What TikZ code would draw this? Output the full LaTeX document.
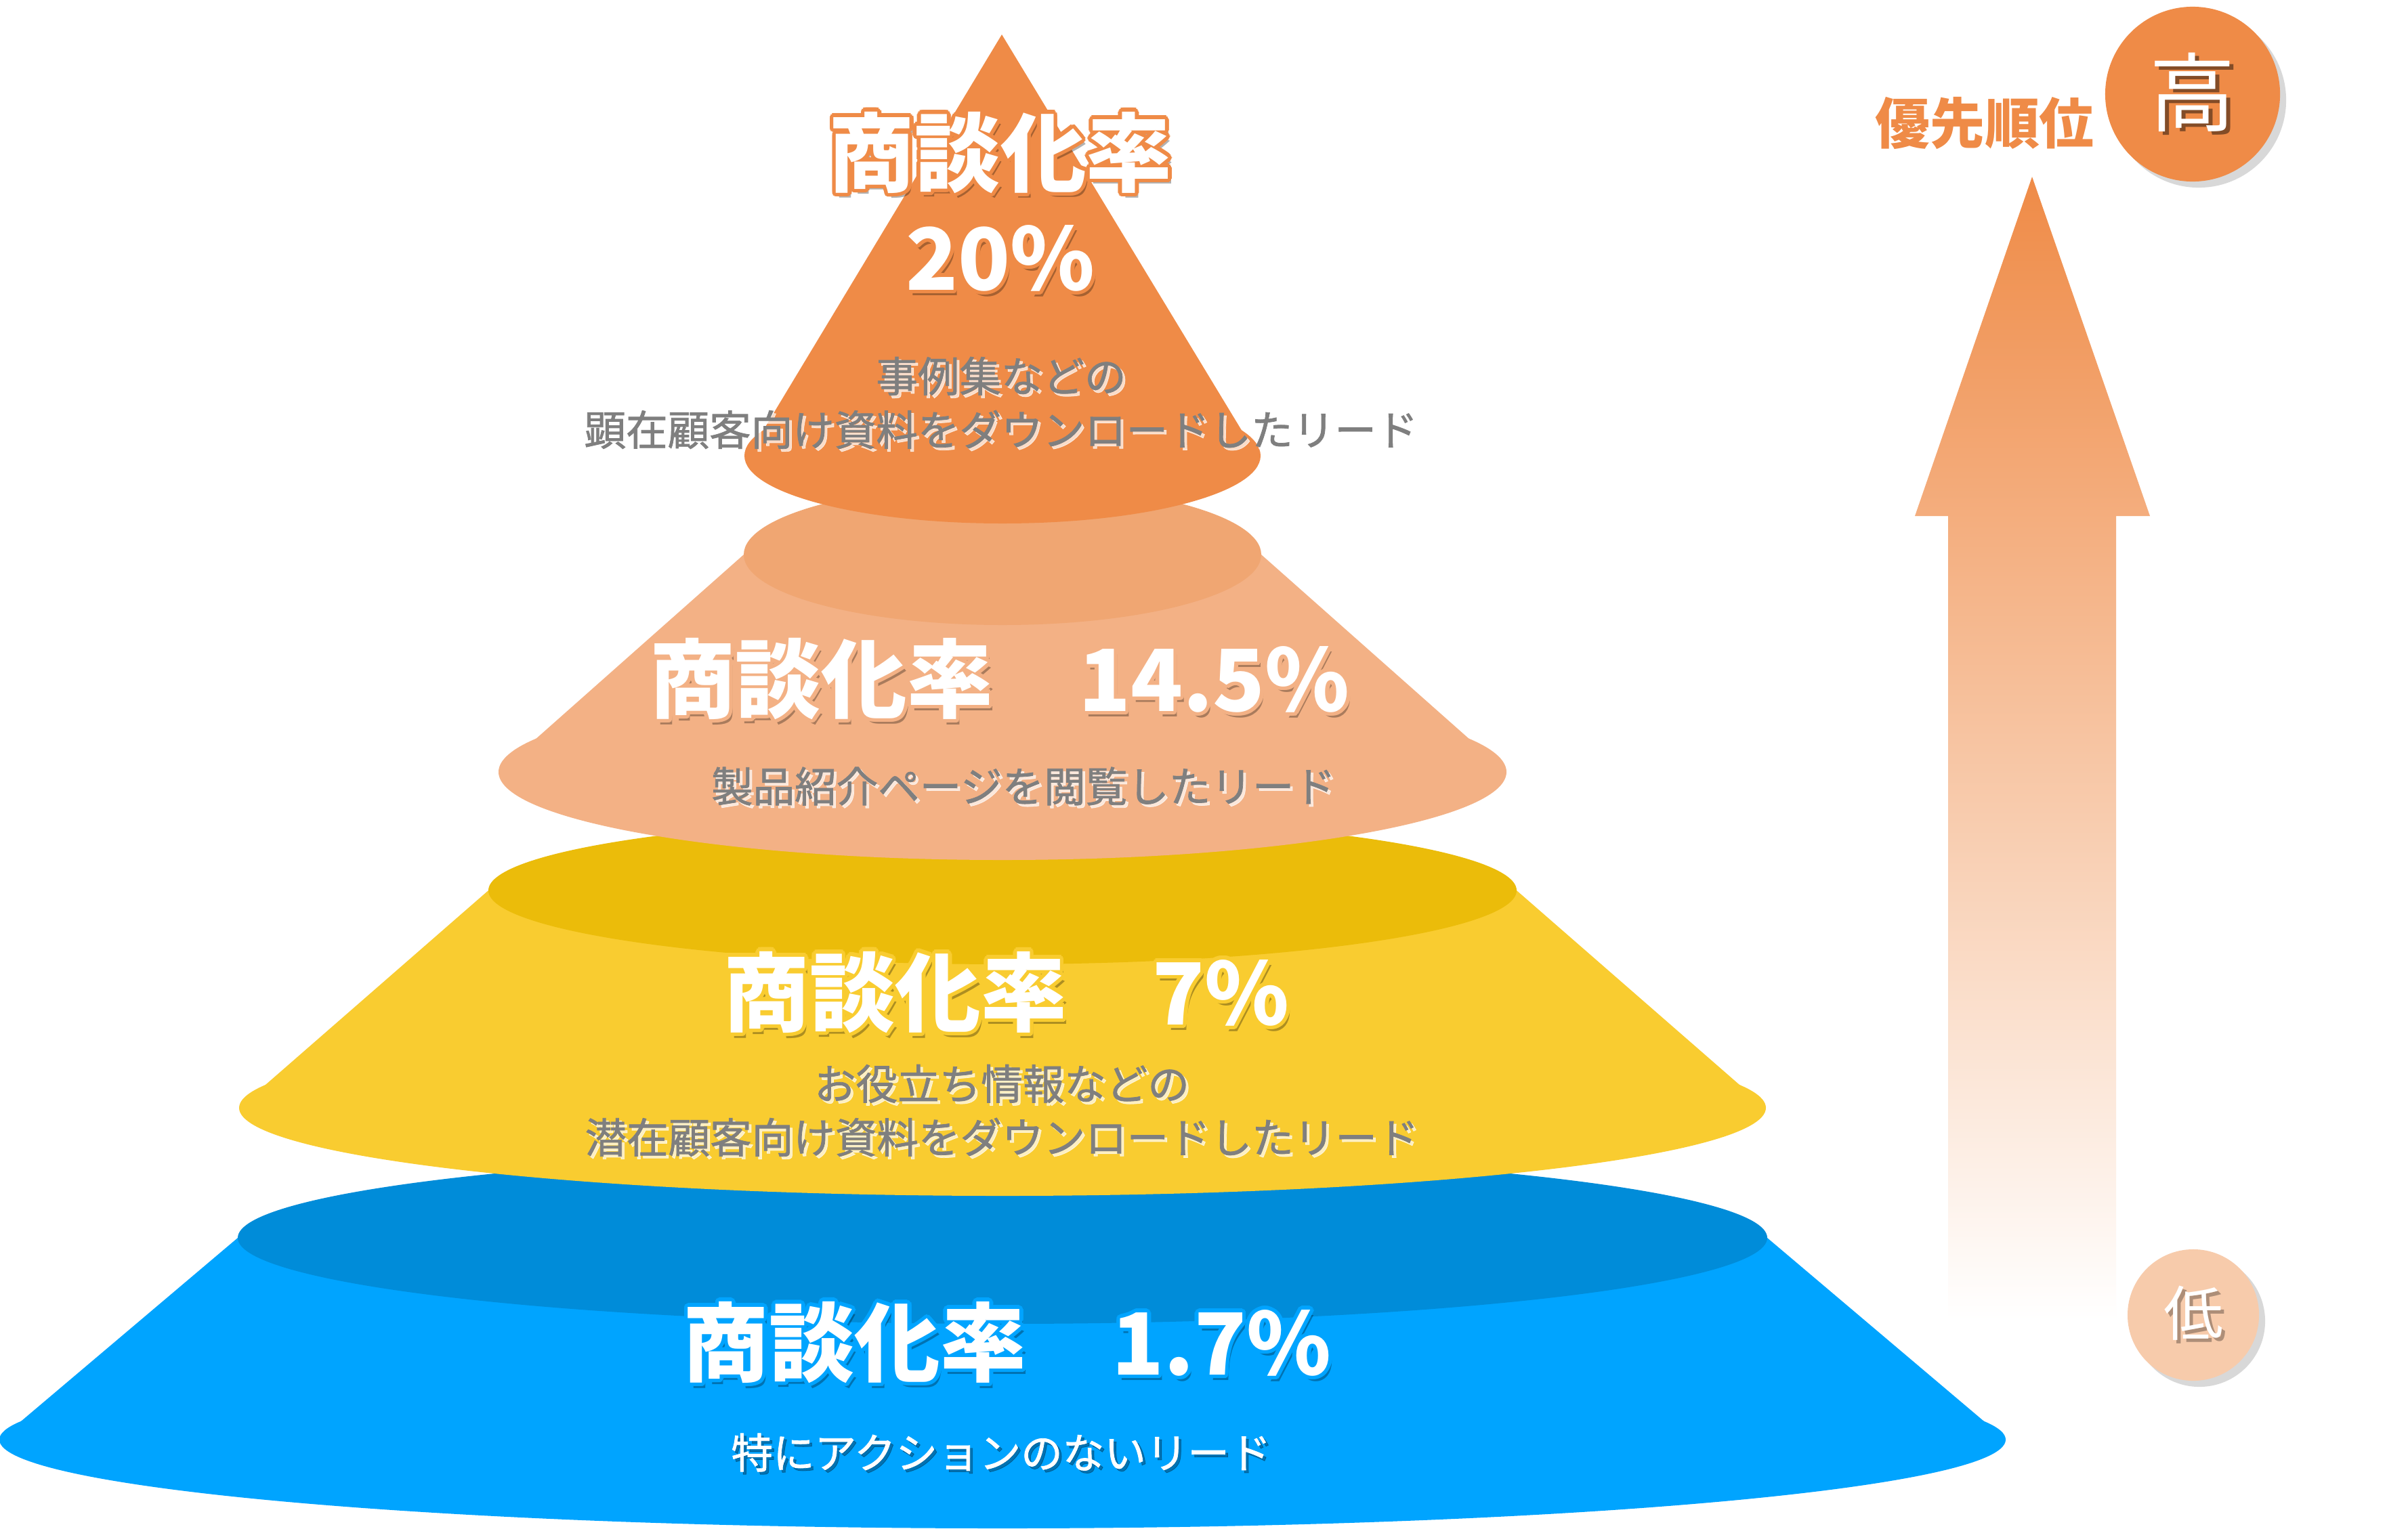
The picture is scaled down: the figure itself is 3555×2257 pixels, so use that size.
\documentclass[tikz,border=0pt]{standalone}
\usepackage{fontspec}
\setmainfont{Noto Sans CJK JP}
\newfontfamily\leadfont{Noto Sans CJK JP}[FakeBold=1.2]
\usepackage[copies]{contour}
\contourlength{1.6pt}
\usetikzlibrary{shadows}

\definecolor{tierA}{HTML}{EF8B47}
\definecolor{tierBside}{HTML}{F3B185}
\definecolor{tierBtop}{HTML}{F0A672}
\definecolor{tierCside}{HTML}{F9CC30}
\definecolor{tierCtop}{HTML}{EBBC0A}
\definecolor{tierDside}{HTML}{00A4FF}
\definecolor{tierDtop}{HTML}{008CD9}
\definecolor{lowdot}{HTML}{F7CBAB}
\definecolor{leadgray}{HTML}{7F7F7F}

\tikzset{
ratetext/.style={font=\bfseries\fontsize{36}{40}\selectfont, text=white, inner sep=0},
leadtext/.style={font=\leadfont\fontsize{17.5}{22.5}\selectfont, text=leadgray, align=center, inner sep=0},
dot/.style={circle, inner sep=0, text=white, drop shadow={shadow xshift=0.09cm, shadow yshift=-0.09cm, opacity=0.3}}
}

% one frustum: top y, top rx, top ry, bottom y, bottom rx, bottom ry, side colour, top colour
\newcommand{\tier}[8]{
\fill[#7] (1480-#2,#1) -- (1480+#2,#1) -- (1480+#5,#4) -- (1480-#5,#4) -- cycle;
\fill[#7] (1480,#4) ellipse [x radius=#5, y radius=#6];
\fill[#8] (1480,#1) ellipse [x radius=#2, y radius=#3];}
% white rate label with outline and shadow
\newcommand{\rate}[5]{
\node[ratetext, text=black, opacity=0.3, shift={(5,-5)}] (#1s) at (#2,#3) {#5};
\node[ratetext] (#1) at (#2,#3) {\contour{#4}{#5}};}
% grey lead text
\newcommand{\lead}[4]{
\node[leadtext, text=white, opacity=0.7, shift={(4,-4)}] (#1s) at (#2,#3) {#4};
\node[leadtext] (#1) at (#2,#3) {#4};}
\newcommand{\shd}[2]{\rlap{\kern1.5pt\raisebox{-1.5pt}{\textcolor{#1}{#2}}}#2}

\begin{document}
\begin{tikzpicture}[x=0.01cm,y=0.01cm]
\fill[white] (0,0) rectangle (3555,-2257);
\useasboundingbox (0,0) rectangle (3555,-2257);

% tiers, bottom first
\tier{-1828}{1129}{127}{-2126}{1481}{131}{tierDside}{tierDtop}
\tier{-1315}{759}{109}{-1636}{1127}{130}{tierCside}{tierCtop}
\tier{-819}{382}{104}{-1140}{744}{130}{tierBside}{tierBtop}
\fill[tierA] (1479,-51) -- (1100,-680) -- (1860,-680) -- cycle;
\fill[tierA] (1480,-673) ellipse [x radius=381, y radius=100];

\rate{rA}{1477}{-228}{tierA}{商談化率}
\rate{pA}{1477}{-384}{tierA}{20\%}
\lead{lA}{1478}{-595}{事例集などの\\顕在顧客向け資料をダウンロードしたリード}

\rate{rB}{1476}{-1005}{tierBside}{商談化率　14.5\%}
\lead{lB}{1511}{-1161}{製品紹介ページを閲覧したリード}

\rate{rC}{1486}{-1468}{tierCside}{商談化率　7\%}
\lead{lC}{1479}{-1640}{お役立ち情報などの\\潜在顧客向け資料をダウンロードしたリード}

\rate{rD}{1487}{-1985}{tierDside}{商談化率　1.7\%}
\node[leadtext, text=black, opacity=0.3, shift={(4,-4)}] (lDs) at (1478,-2145) {特にアクションのないリード};
\node[leadtext, text=white] (lD) at (1478,-2145) {特にアクションのないリード};

% priority arrow
\shade[top color=tierA, bottom color=white] (3000,-261) -- (3174,-762) -- (3124,-762)
  -- (3124,-1950) -- (2876,-1950) -- (2876,-762) -- (2827,-762) -- cycle;
\node[font=\bfseries\fontsize{23}{23}\selectfont, text=tierA, inner sep=0] (prio) at (2930,-182) {優先順位};
\node[dot, fill=tierA, minimum size=2.58cm, font=\fontsize{36}{36}\selectfont] (hi) at (3237,-139) {\shd{black!45!tierA}{高}};
\node[dot, fill=lowdot, minimum size=1.94cm, font=\fontsize{25}{25}\selectfont] (lo) at (3238,-1942) {\shd{black!30!lowdot}{低}};
\end{tikzpicture}
\end{document}
